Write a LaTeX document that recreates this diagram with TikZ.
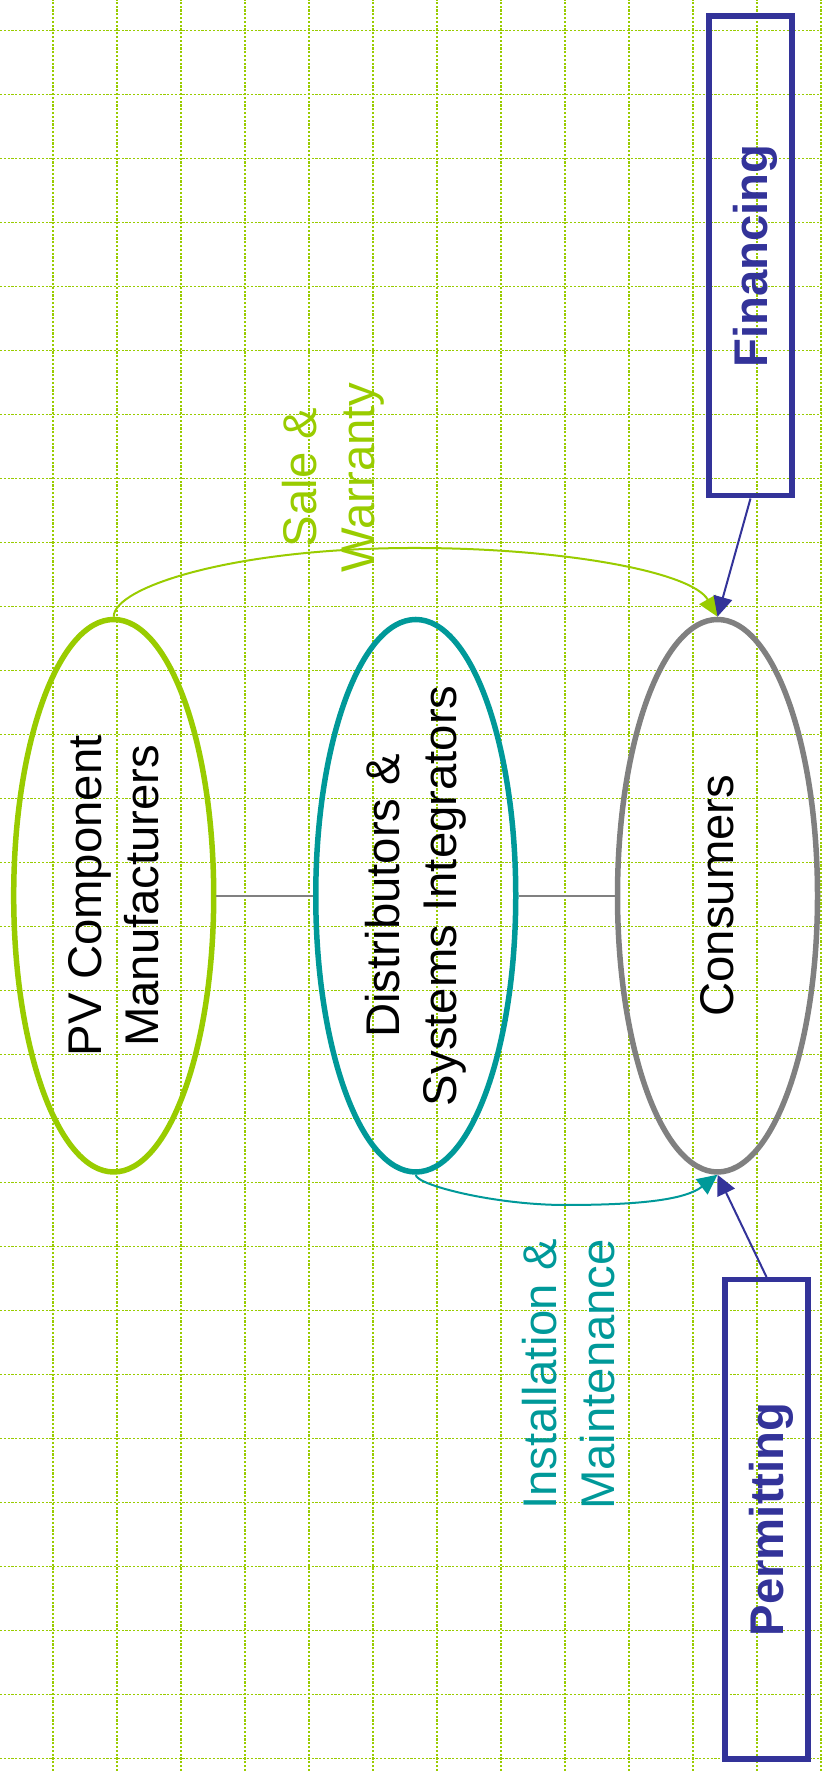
\documentclass[tikz,border=0pt]{standalone}
\usepackage{fontspec}
\setmainfont{Liberation Sans}
\usetikzlibrary{shapes.geometric,arrows.meta}
\definecolor{pvgreen}{RGB}{153,204,0}
\definecolor{distteal}{RGB}{0,153,153}
\definecolor{consgray}{RGB}{128,128,128}
\definecolor{boxblue}{RGB}{51,51,153}
\tikzset{
  gridline/.style={pvgreen,line width=1.3pt,dash pattern=on 2.2pt off 1.6pt},
  oval/.style={ellipse,minimum width=200pt,minimum height=552.5pt,inner sep=0pt,line width=5.5pt},
  bigtext/.style={rotate=90,align=center,inner sep=0pt,font=\fontsize{47.3}{57.5}\selectfont},
  sidebox/.style={draw=boxblue,line width=5.5pt,rotate=90,minimum width=479.5pt,minimum height=83pt,
    inner sep=0pt,text=boxblue,text depth=0pt,font=\fontsize{47.3}{57.5}\selectfont\bfseries},
  flowarrow/.style={-{Triangle[length=20pt,width=19pt]},line width=2pt}
}
\begin{document}
\begin{tikzpicture}[x=1pt,y=1pt]
\useasboundingbox (0,0) rectangle (822,1771);
\foreach \i in {0,...,12} \draw[gridline] ({53+64*\i},0) -- ++(0,1771);
\foreach \i in {0,...,27} \draw[gridline] (0,{12.5+64*\i}) -- ++(822,0);

\node[oval,draw=pvgreen] (pv) at (113.7,875.25) {};
\node[oval,draw=distteal] (dist) at (415.75,875.25) {};
\node[oval,draw=consgray] (cons) at (717.5,875.25) {};
\node[bigtext] (pvtext) at (pv) {PV Component\\Manufacturers};
\node[bigtext] (disttext) at (dist) {Distributors \&\\Systems Integrators};
\node[bigtext] (constext) at (cons) {Consumers};
\node[bigtext,text=pvgreen] (sale) at (333.4,1293.5) {Sale \&\\Warranty};
\node[bigtext,text=distteal] (install) at (568.4,396.5) {Installation \&\\Maintenance};
\node[sidebox] (fin) at (750.5,1515) {Financing};
\node[sidebox] (perm) at (766.5,251.5) {Permitting};

\draw[consgray,line width=2.2pt] (pv.east)--(dist.west) (dist.east)--(cons.west);
\draw[flowarrow,pvgreen] (pv.north) .. controls (113.7,1184) and (234,1223) .. (414,1223)
  .. controls (564,1223) and (692,1199) .. (cons.north);
\draw[flowarrow,distteal] (dist.south) .. controls (415.75,586) and (495,566) .. (565,566)
  .. controls (645,566) and (686,572) .. (cons.south);
\draw[flowarrow,boxblue] (fin.west)--(cons.north);
\draw[flowarrow,boxblue] (perm.east)--(cons.south);
\end{tikzpicture}
\end{document}
